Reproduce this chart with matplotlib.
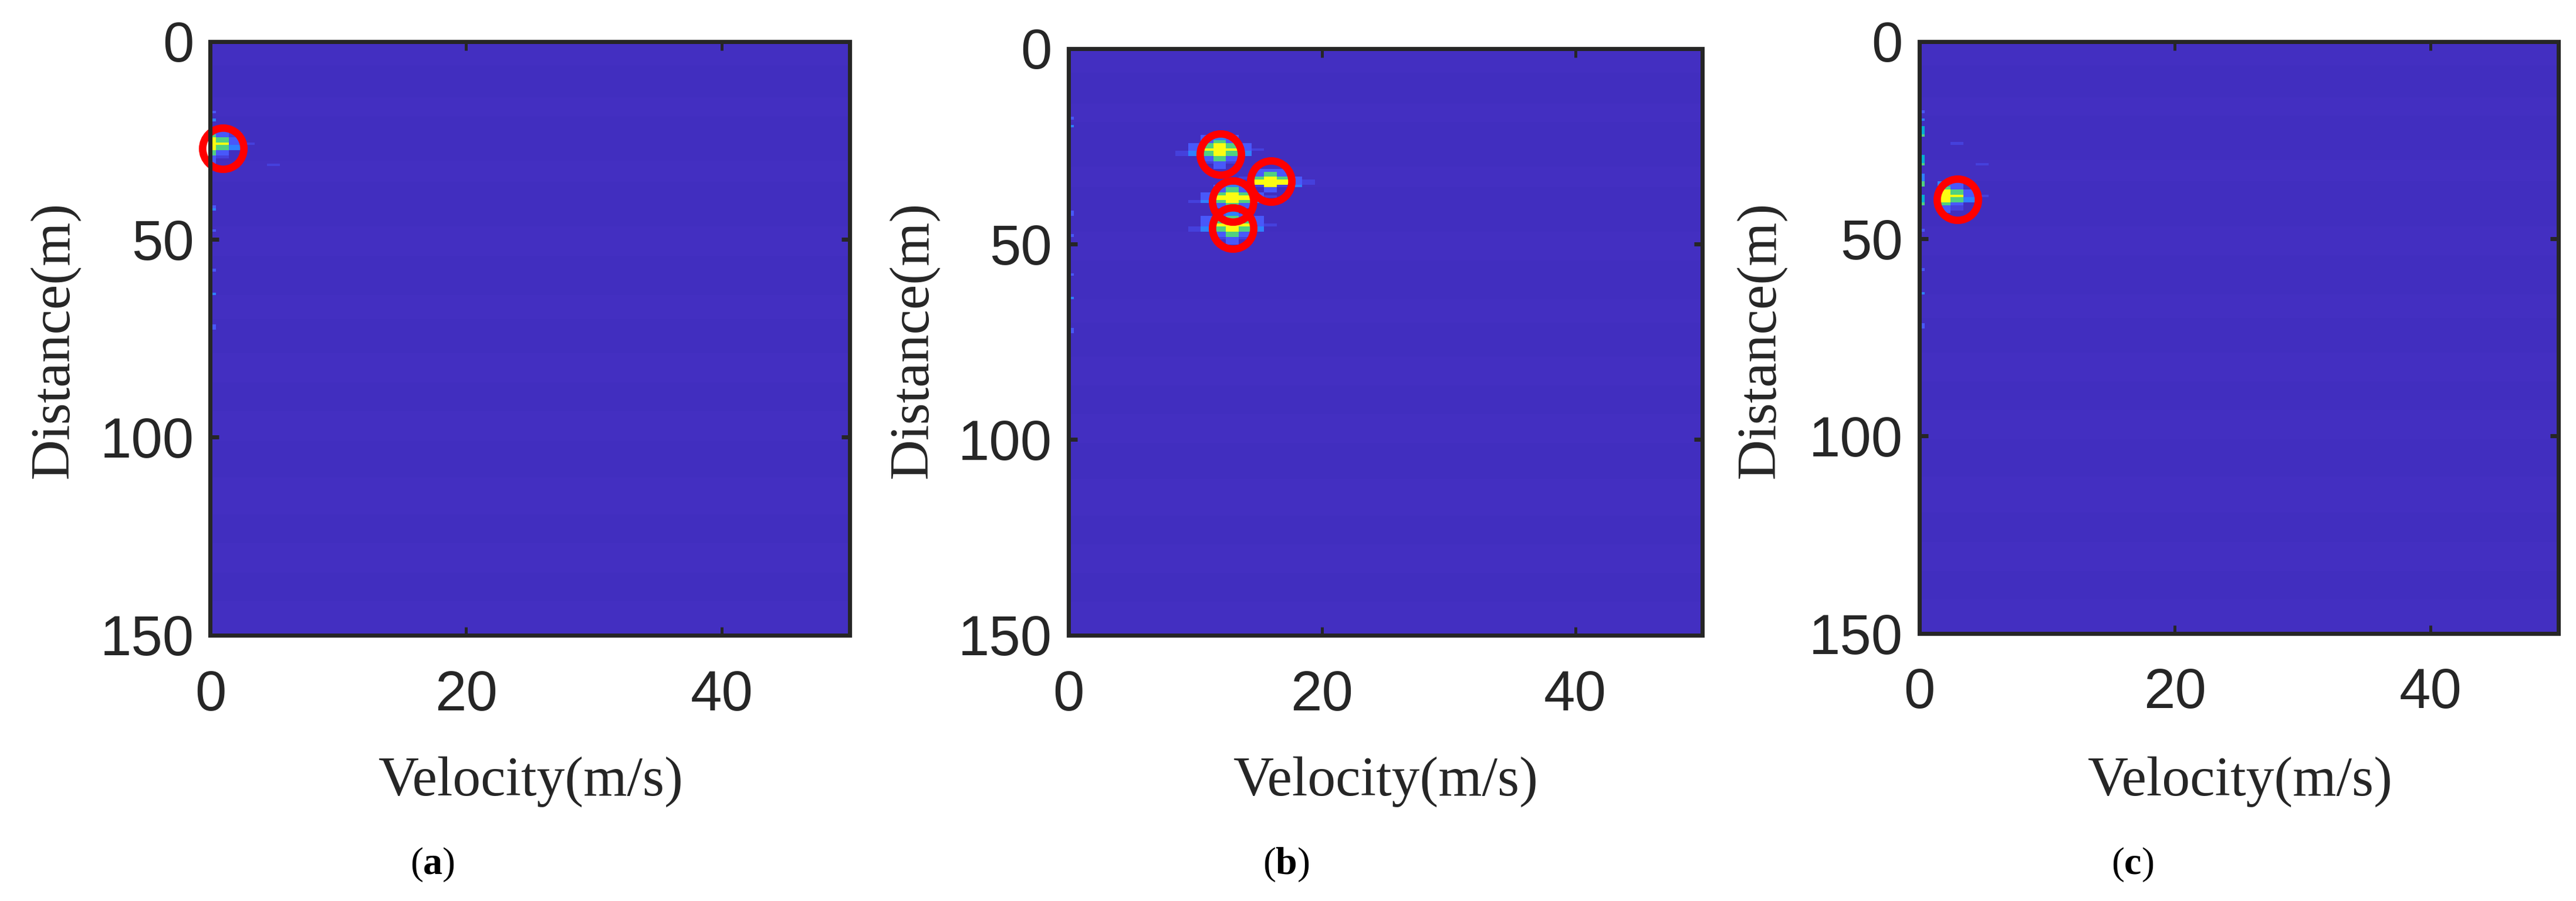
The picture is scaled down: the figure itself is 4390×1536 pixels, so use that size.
import numpy as np
import matplotlib
matplotlib.use("Agg")
import matplotlib.pyplot as plt
from matplotlib.colors import ListedColormap

plt.rcParams['mathtext.fontset'] = 'custom'
plt.rcParams['mathtext.bf'] = 'Liberation Serif:bold'
plt.rcParams['mathtext.rm'] = 'Liberation Serif'

# ---- data -----------------------------------------------------------
x_ticks = [0, 20, 40]
y_ticks = [0, 50, 100, 150]
x_label = "Velocity(m/s)"
y_label = "Distance(m)"
panel_names = ["a", "b", "c"]

# Target positions marked by the red circles
targets_a_v, targets_a_d = [1], [27]
targets_b_v, targets_b_d = [12, 16, 13, 13], [27, 34, 39, 46]
targets_c_v, targets_c_d = [3], [40]

# Intensity levels: 0 background, 1 dark blue ... 6 yellow, 7 lighter background band
level_colors = ['#412EBF', '#4540DC', '#4858FA', '#2E80FF', '#04AED0', '#50D080', '#FCFC12', '#432FC1']

# Faint lighter clutter bands of the background (first row, last row)
band_first_rows = [0, 21, 45, 70, 96, 118, 140, 165, 190, 212]
band_last_rows = [8, 27, 52, 80, 104, 128, 150, 178, 200, 226]

# Range-bin rows (2/3 m) of weak returns in the zero-velocity column
col0_rows_a = [26, 29, 62, 63, 71, 86, 95, 107, 108]
col0_lvls_a = [2, 3, 2, 3, 2, 2, 3, 2, 2]
col0_rows_b = [26, 29, 62, 63, 71, 86, 95, 107, 108]
col0_lvls_b = [2, 3, 2, 2, 2, 2, 3, 2, 2]
col0_rows_c = [26, 29, 32, 33, 34, 35, 43, 44, 45, 46, 50, 51, 52, 53, 54,
               58, 59, 60, 61, 71, 86, 95, 107, 108]
col0_lvls_c = [2, 3, 4, 4, 4, 5, 4, 4, 4, 5, 3, 3, 3, 5, 5,
               4, 4, 4, 5, 2, 2, 3, 2, 2]

# Peak blocks: (first row, first velocity bin, grid of levels)
peak_a_row, peak_a_col = 33, 0
peak_a = [[3, 2, 0, 0],
          [3, 2, 1, 0],
          [5, 2, 1, 0],
          [6, 5, 2, 0],
          [6, 5, 2, 0],
          [6, 6, 2, 1],
          [6, 5, 3, 0],
          [6, 5, 3, 0],
          [5, 2, 0, 0],
          [5, 2, 0, 0],
          [2, 1, 0, 0],
          [2, 0, 0, 0],
          [2, 0, 0, 0]]
faint_a_row, faint_a_col, faint_a_lvl = [46], [5], [1]

peak_b1_row, peak_b1_col = 33, 9
peak_b1 = [[0, 0, 2, 3, 2, 0, 0],
           [0, 0, 2, 3, 2, 0, 0],
           [0, 0, 2, 5, 2, 0, 0],
           [0, 2, 5, 6, 5, 2, 0],
           [0, 2, 5, 6, 5, 2, 0],
           [0, 2, 6, 6, 6, 2, 1],
           [1, 3, 5, 6, 5, 3, 0],
           [1, 3, 5, 6, 5, 3, 0],
           [0, 0, 2, 5, 2, 0, 0],
           [0, 0, 2, 5, 2, 0, 0],
           [0, 0, 1, 2, 1, 0, 0],
           [0, 0, 0, 2, 0, 0, 0],
           [0, 0, 0, 2, 0, 0, 0]]
peak_b2_row, peak_b2_col = 46, 14
peak_b2 = [[0, 2, 2, 2, 0, 0],
           [0, 2, 5, 2, 0, 0],
           [0, 2, 5, 2, 0, 0],
           [1, 5, 6, 5, 2, 0],
           [0, 6, 6, 6, 2, 1],
           [0, 6, 6, 6, 2, 1],
           [0, 1, 6, 1, 3, 0],
           [0, 0, 2, 0, 0, 0],
           [0, 0, 2, 0, 0, 0],
           [0, 2, 0, 0, 0, 0],
           [0, 2, 1, 0, 0, 0]]
peak_b3_row, peak_b3_col = 52, 10
peak_b3 = [[0, 0, 2, 3, 2, 0],
           [0, 0, 2, 5, 2, 0],
           [0, 0, 2, 5, 2, 0],
           [0, 2, 5, 6, 5, 2],
           [0, 2, 6, 6, 6, 2],
           [0, 2, 6, 6, 6, 2],
           [1, 3, 5, 6, 5, 3],
           [0, 0, 2, 5, 2, 0],
           [0, 0, 2, 2, 2, 0]]
peak_b4_row, peak_b4_col = 62, 10
peak_b4 = [[0, 0, 0, 3, 0, 0, 0],
           [0, 0, 2, 3, 2, 0, 0],
           [0, 2, 2, 5, 2, 2, 0],
           [0, 2, 2, 5, 2, 2, 0],
           [0, 2, 5, 5, 5, 2, 0],
           [0, 2, 6, 6, 6, 2, 1],
           [1, 3, 5, 6, 5, 3, 0],
           [1, 3, 5, 6, 5, 3, 0],
           [0, 0, 2, 5, 2, 0, 0],
           [0, 0, 2, 5, 2, 0, 0],
           [0, 0, 1, 2, 1, 0, 0],
           [0, 0, 0, 2, 0, 0, 0],
           [0, 0, 0, 2, 0, 0, 0]]

peak_c_row, peak_c_col = 53, 2
peak_c = [[3, 2, 0, 0],
          [3, 2, 0, 0],
          [5, 2, 0, 0],
          [6, 5, 2, 0],
          [6, 5, 2, 0],
          [6, 6, 2, 1],
          [6, 5, 3, 0],
          [6, 5, 3, 0],
          [5, 2, 0, 0],
          [2, 1, 0, 0],
          [2, 1, 0, 0],
          [2, 0, 0, 0]]
faint_c_row, faint_c_col, faint_c_lvl = [38, 46], [3, 5], [1, 1]

# ---- layout (pixels) ------------------------------------------------
W, H = 4390, 1536
DPI = 100
INK = '#262626'
boxes = [(358.5, 70.5, 1447.5, 1082.5),
         (1820.5, 82.5, 2900.5, 1082.5),
         (3270.5, 70.5, 4359.5, 1079.5)]
xlabel_cx = [905, 2362, 3818]
ylabel_x = [136, 1600, 3044]
caption_cx = [737, 2192, 3634]
px = 72 / DPI  # points per pixel

N_ROWS, N_COLS = 227, 51
v_edges = np.arange(N_COLS + 1) - 0.55
d_edges = (np.arange(N_ROWS + 1) + 0.25) * 2 / 3
cmap = ListedColormap(level_colors)


def build(col0_rows, col0_lvls, blocks, faint=None):
    m = np.zeros((N_ROWS, N_COLS))
    for a, b in zip(band_first_rows, band_last_rows):
        m[a:b + 1, :] = 7
    for r, l in zip(col0_rows, col0_lvls):
        m[r, 0] = l
    for r0, c0, grid in blocks:
        g = np.array(grid)
        sub = m[r0:r0 + g.shape[0], c0:c0 + g.shape[1]]
        sub[g > 0] = np.maximum(np.where(sub == 7, 0, sub), g)[g > 0]
    if faint:
        for r, c, l in zip(*faint):
            m[r, c] = l
    return m


matrices = [
    build(col0_rows_a, col0_lvls_a, [(peak_a_row, peak_a_col, peak_a)],
          (faint_a_row, faint_a_col, faint_a_lvl)),
    build(col0_rows_b, col0_lvls_b, [(peak_b1_row, peak_b1_col, peak_b1),
                                     (peak_b2_row, peak_b2_col, peak_b2),
                                     (peak_b3_row, peak_b3_col, peak_b3),
                                     (peak_b4_row, peak_b4_col, peak_b4)]),
    build(col0_rows_c, col0_lvls_c, [(peak_c_row, peak_c_col, peak_c)],
          (faint_c_row, faint_c_col, faint_c_lvl)),
]
targets = [(targets_a_v, targets_a_d), (targets_b_v, targets_b_d), (targets_c_v, targets_c_d)]

fig = plt.figure(figsize=(W / DPI, H / DPI), dpi=DPI, facecolor='white')

for i, (x0, y0, x1, y1) in enumerate(boxes):
    ax = fig.add_axes([x0 / W, 1 - y1 / H, (x1 - x0) / W, (y1 - y0) / H])
    ax.set_facecolor(level_colors[7])
    ax.pcolormesh(v_edges, d_edges, matrices[i], cmap=cmap, vmin=-0.5, vmax=7.5,
                  shading='flat', antialiased=False, linewidth=0)
    ax.plot(targets[i][0], targets[i][1], linestyle='none', marker='o',
            mfc='none', mec='#FF0000', ms=70.3 * px, mew=12.7 * px,
            clip_on=False, zorder=2)
    ax.set_xlim(0, 50)
    ax.set_ylim(150, 0)
    ax.set_xticks(x_ticks)
    ax.set_yticks(y_ticks)
    for s in ax.spines.values():
        s.set_linewidth(7 * px)
        s.set_color(INK)
    ax.tick_params(axis='x', direction='in', top=True, bottom=True, length=14.5 * px,
                   width=5 * px, color=INK, labelcolor=INK, pad=58 * px)
    ax.tick_params(axis='y', direction='in', left=True, right=True, length=14.5 * px,
                   width=7 * px, color=INK, labelcolor=INK, pad=28 * px)
    for t in ax.get_xticklabels() + ax.get_yticklabels():
        t.set_fontfamily('Liberation Sans')
        t.set_fontsize(96 * px)

    fig.text(xlabel_cx[i] / W, 1 - 1356 / H, x_label, family='Liberation Serif',
             fontsize=95.5 * px, color=INK, ha='center', va='baseline')
    fig.text(ylabel_x[i] / W, 1 - 580 / H, y_label, family='Liberation Serif',
             fontsize=95.5 * px, color=INK, ha='right', va='center', rotation=90,
             rotation_mode='default')
    fig.text(caption_cx[i] / W, 1 - 1490 / H, r'($\mathbf{%s}$)' % panel_names[i],
             family='Liberation Serif', fontsize=66 * px, color='black',
             ha='center', va='baseline')

fig.savefig('out.png', dpi=DPI, facecolor='white')
